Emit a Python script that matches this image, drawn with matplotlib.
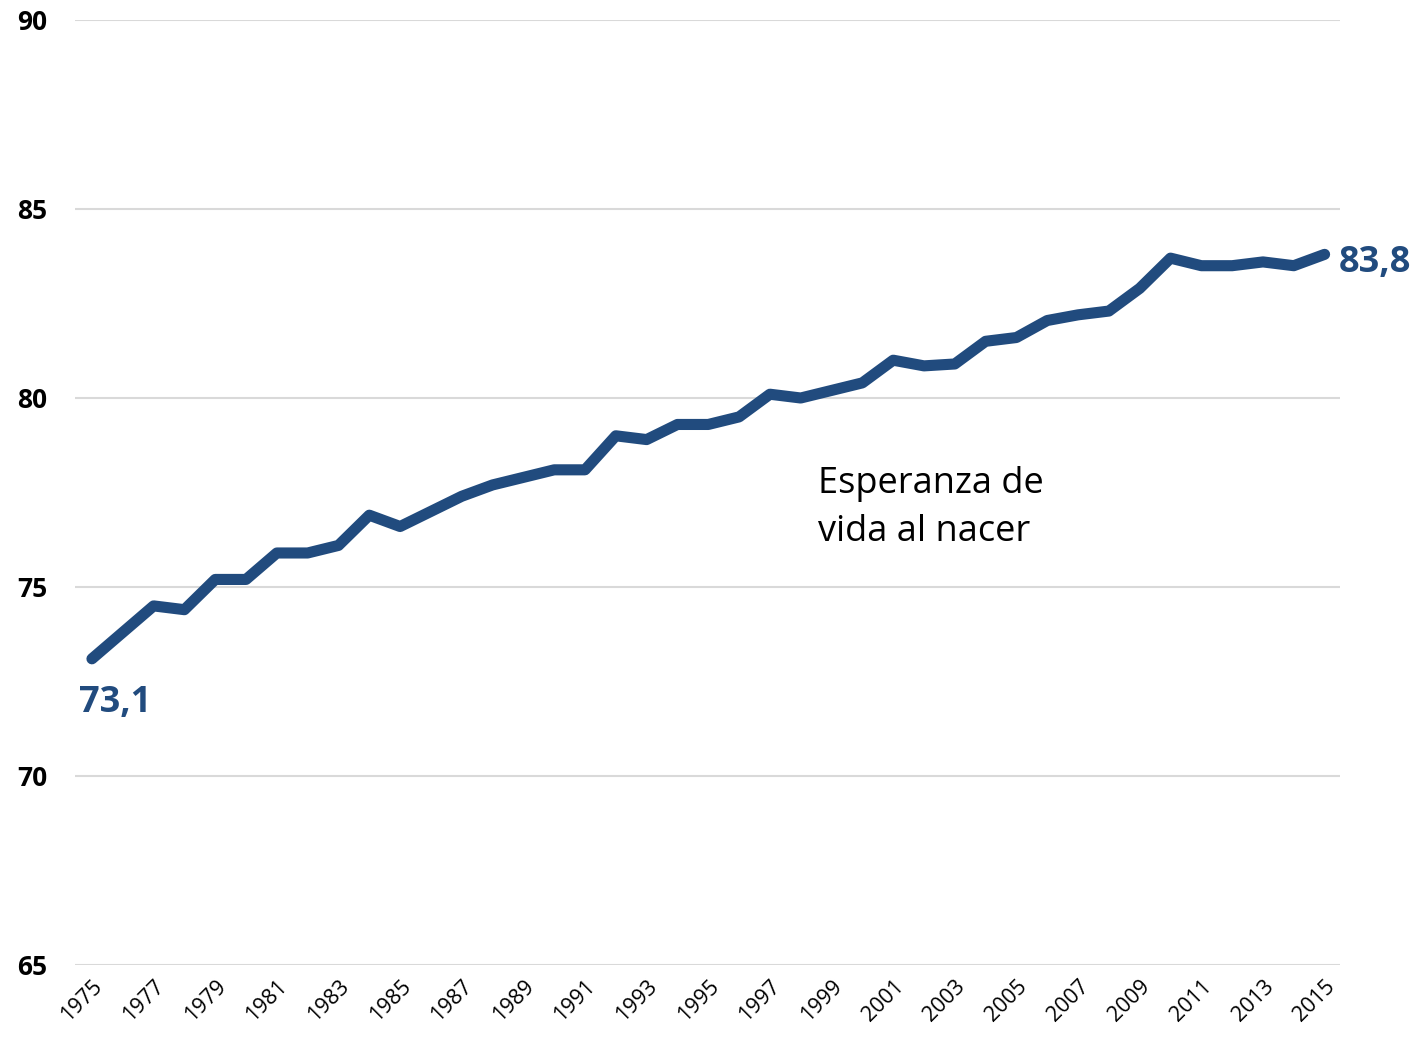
import matplotlib
matplotlib.use("Agg")
import matplotlib.pyplot as plt

years = list(range(1975, 2016))
life_expectancy = [73.1, 73.8, 74.5, 74.4, 75.2, 75.2, 75.9, 75.9, 76.1, 76.9,
                   76.6, 77.0, 77.4, 77.7, 77.9, 78.1, 78.1, 79.0, 78.9, 79.3,
                   79.3, 79.5, 80.1, 80.0, 80.2, 80.4, 81.0, 80.85, 80.9, 81.5,
                   81.6, 82.05, 82.2, 82.3, 82.9, 83.7, 83.5, 83.5, 83.6, 83.5,
                   83.8]
yticks = [65, 70, 75, 80, 85, 90]
xtick_years = list(range(1975, 2016, 2))
series_label = "Esperanza de\nvida al nacer"
first_label = "73,1"
last_label = "83,8"

color = "#214B7E"
plt.rcParams['font.family'] = ['Open Sans', 'DejaVu Sans']

fig = plt.figure(figsize=(14.25, 10.47), dpi=100)
ax = fig.add_axes([75/1425, 1 - 965/1047, (1340-75)/1425, (965-20)/1047])

ax.plot(years, life_expectancy, color=color, lw=8, solid_capstyle='round', solid_joinstyle='round', zorder=3)

ax.set_ylim(65, 90)
ax.set_xlim(1974.45, 2015.5)
ax.set_yticks(yticks)
ax.set_yticklabels([str(v) for v in yticks], fontsize=19, fontweight='bold')
ax.set_xticks(xtick_years)
ax.set_xticklabels([str(y) for y in xtick_years], rotation=45, ha='right', va='top',
                   rotation_mode='anchor', fontsize=15.5)
ax.grid(axis='y', color='#D9D9D9', lw=1.5, zorder=0)
ax.tick_params(axis='both', length=0)
ax.tick_params(axis='y', pad=20)
ax.tick_params(axis='x', pad=8)
for s in ax.spines.values():
    s.set_visible(False)

ax.annotate(first_label, xy=(years[0], life_expectancy[0]), xytext=(23, -44),
            textcoords='offset pixels', ha='center', va='center',
            fontsize=26, fontweight='bold', color=color)
ax.annotate(last_label, xy=(years[-1], life_expectancy[-1]), xytext=(14, -9),
            textcoords='offset pixels', ha='left', va='center',
            fontsize=26, fontweight='bold', color=color)
ax.text(1998.56, 77.1, series_label, ha='left', va='center', fontsize=26,
        color='black', linespacing=1.45)

fig.savefig("out.png", dpi=100)
